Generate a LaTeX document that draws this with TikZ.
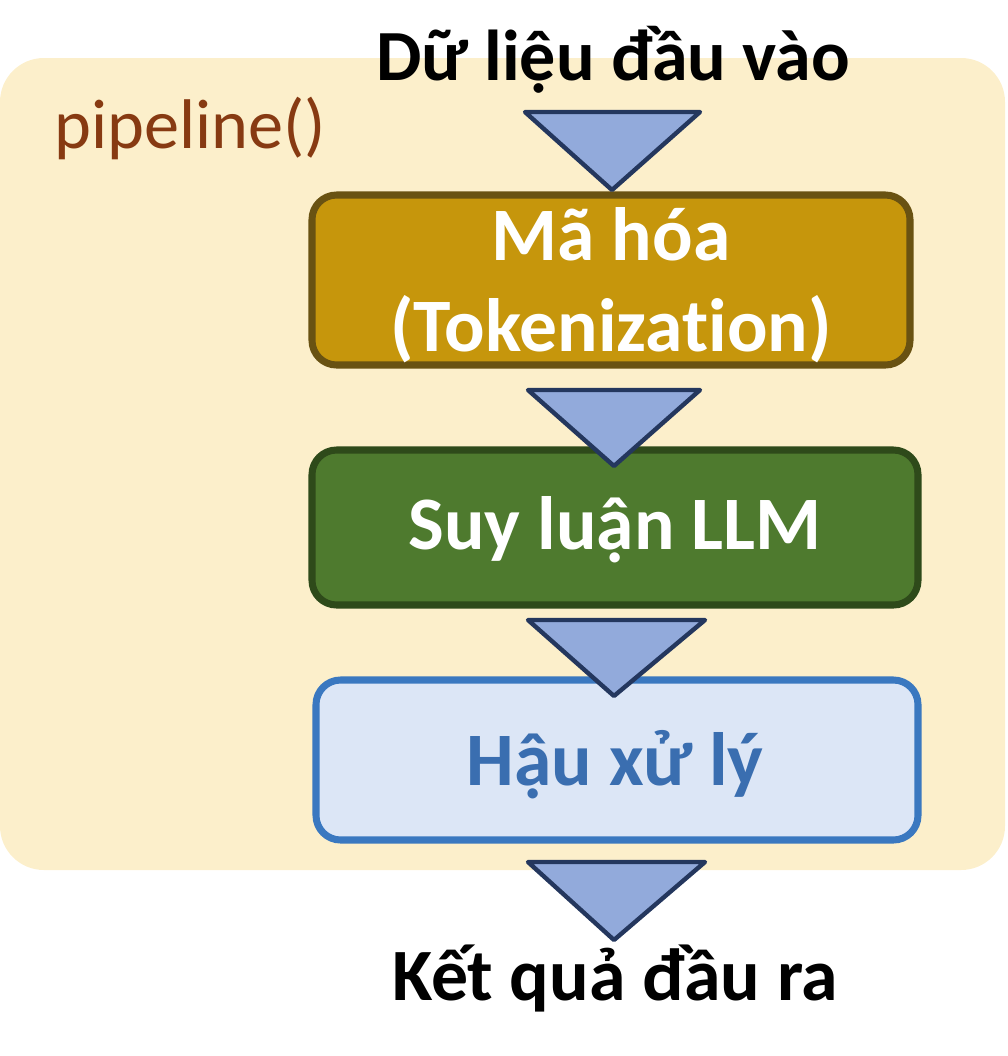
\documentclass[tikz,border=0pt]{standalone}
\usepackage{fontspec}
\setmainfont[Ligatures={NoCommon}]{Carlito}
\begin{document}
\begin{tikzpicture}[x=0.02cm,y=-0.02cm,
  tri/.style={fill=triblue,draw=tridark,line width=2.5pt,line join=round},
  box/.style={rounded corners=14pt,line width=4pt},
  lbl/.style={font=\fontsize{43}{52}\selectfont\bfseries,align=center}]
\definecolor{bgy}{HTML}{FCEFCB}
\definecolor{triblue}{HTML}{92AADB}
\definecolor{tridark}{HTML}{24375E}
\useasboundingbox (0,0) rectangle (1008,1056);
\fill[bgy,rounded corners=25pt] (0,58) rectangle (1005,870);
\node[text={rgb,255:red,135;green,58;blue,18},font=\fontsize{40}{46}\selectfont,anchor=west] (pl) at (48,128) {pipeline()};
\node[font=\fontsize{41}{48}\selectfont\bfseries] (in) at (613,60) {Dữ liệu đầu vào};
\draw[box,fill={rgb,255:red,198;green,150;blue,12},draw={rgb,255:red,105;green,82;blue,18}] (312,195) rectangle (910,365);
\node[lbl,text=white] (b1) at (611,285) {Mã hóa\\(Tokenization)};
\draw[box,fill={rgb,255:red,78;green,122;blue,46},draw={rgb,255:red,46;green,74;blue,26}] (312,450) rectangle (918,605);
\node[lbl,text=white] (b2) at (615,530) {Suy luận LLM};
\draw[box,fill={rgb,255:red,220;green,230;blue,246},draw={rgb,255:red,58;green,120;blue,192}] (316,680) rectangle (918,840);
\node[lbl,text={rgb,255:red,58;green,110;blue,176}] (b3) at (615,765) {Hậu xử lý};
\draw[tri] (525,112) -- (700,112) -- (612,190) -- cycle;
\draw[tri] (528,390) -- (700,390) -- (614,466) -- cycle;
\draw[tri] (528,620) -- (705,620) -- (614,696) -- cycle;
\draw[tri] (528,862) -- (705,862) -- (614,940) -- cycle;
\node[font=\fontsize{42}{48}\selectfont\bfseries] (out) at (615,978) {Kết quả đầu ra};
\end{tikzpicture}
\end{document}
